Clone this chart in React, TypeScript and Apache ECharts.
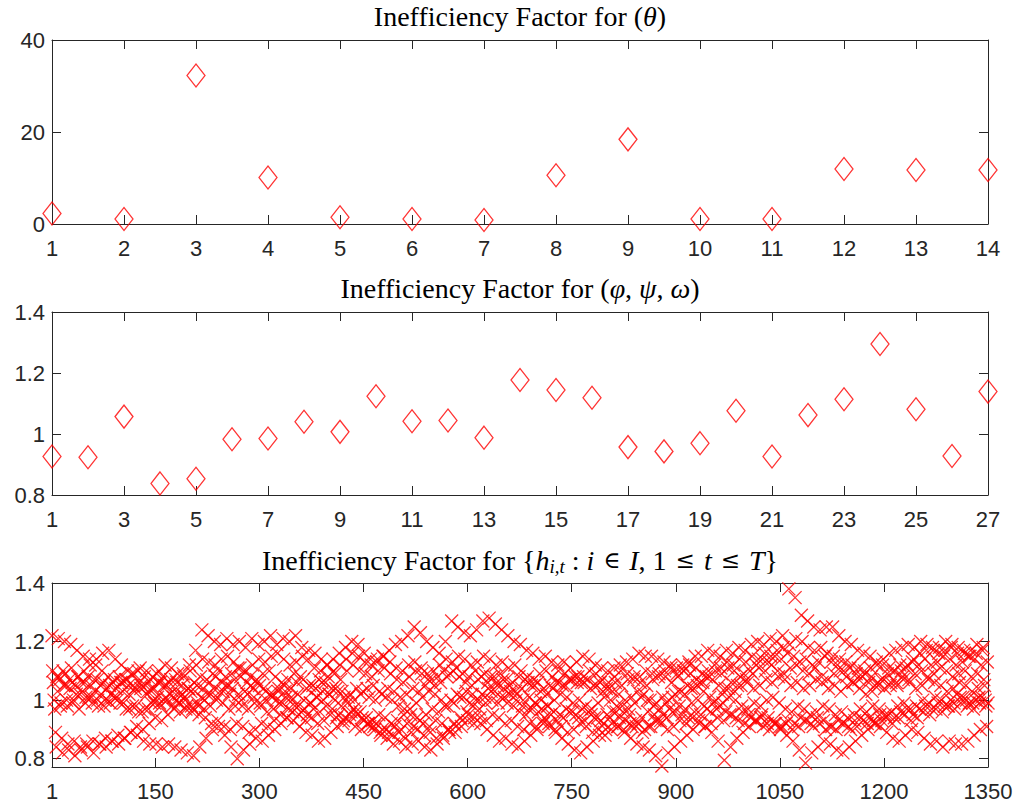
import React, { useEffect, useRef } from "react";
import * as echarts from "echarts";

// ---------- data ----------
const thetaIndex = [1, 2, 3, 4, 5, 6, 7, 8, 9, 10, 11, 12, 13, 14];
const thetaIF = [2.3, 1.09, 32.3, 10.1, 1.45, 1.09, 0.87, 10.6, 18.4, 1.09, 1.09, 11.96, 11.74, 11.74];

const paramIndex = [1, 2, 3, 4, 5, 6, 7, 8, 9, 10, 11, 12, 13, 14, 15, 16, 17, 18, 19, 20, 21, 22, 23, 24, 25, 26, 27];
const paramIF = [0.926, 0.924, 1.057, 0.838, 0.853, 0.983, 0.985, 1.04, 1.007, 1.124, 1.042, 1.044, 0.988, 1.177, 1.144, 1.119, 0.957, 0.943, 0.97, 1.076, 0.926, 1.062, 1.114, 1.295, 1.081, 0.928, 1.139];

// h_{i,t}: nine interleaved series (i fastest), 150 time points each
const hA = [
  1.22, 1.21, 1.20, 1.19, 1.17, 1.15, 1.14, 1.12, 1.10, 1.08,
  1.07, 1.06, 1.07, 1.05, 1.06, 1.05, 1.04, 1.06, 1.05, 1.07,
  1.06, 1.09, 1.12, 1.17, 1.24, 1.22, 1.20, 1.19, 1.21, 1.19,
  1.20, 1.18, 1.21, 1.19, 1.20, 1.22, 1.19, 1.21, 1.20, 1.22,
  1.18, 1.14, 1.11, 1.10, 1.12, 1.14, 1.16, 1.18, 1.20, 1.19,
  1.16, 1.14, 1.13, 1.15, 1.17, 1.19, 1.20, 1.22, 1.25, 1.23,
  1.20, 1.18, 1.16, 1.20, 1.27, 1.25, 1.23, 1.22, 1.24, 1.27,
  1.28, 1.26, 1.24, 1.22, 1.20, 1.19, 1.17, 1.16, 1.14, 1.15,
  1.13, 1.12, 1.13, 1.11, 1.13, 1.15, 1.14, 1.12, 1.11, 1.10,
  1.11, 1.12, 1.13, 1.14, 1.16, 1.15, 1.15, 1.14, 1.13, 1.12,
  1.11, 1.12, 1.13, 1.15, 1.15, 1.17, 1.16, 1.15, 1.17, 1.16,
  1.18, 1.17, 1.19, 1.20, 1.19, 1.21, 1.20, 1.22, 1.38, 1.35,
  1.29, 1.27, 1.25, 1.24, 1.25, 1.25, 1.22, 1.20, 1.19, 1.17,
  1.16, 1.15, 1.13, 1.12, 1.11, 1.10, 1.10, 1.12, 1.14, 1.16,
  1.17, 1.18, 1.16, 1.17, 1.18, 1.16, 1.17, 1.15, 1.16, 1.17,
];
const hB = [
  1.10, 1.08, 1.09, 1.11, 1.08, 1.10, 1.12, 1.14, 1.16, 1.17,
  1.14, 1.12, 1.10, 1.09, 1.11, 1.10, 1.08, 1.10, 1.12, 1.11,
  1.09, 1.08, 1.10, 1.12, 1.14, 1.13, 1.12, 1.14, 1.15, 1.13,
  1.11, 1.10, 1.12, 1.14, 1.13, 1.15, 1.16, 1.14, 1.12, 1.13,
  1.15, 1.17, 1.16, 1.14, 1.12, 1.10, 1.12, 1.14, 1.16, 1.15,
  1.13, 1.12, 1.14, 1.15, 1.13, 1.11, 1.10, 1.12, 1.13, 1.11,
  1.09, 1.10, 1.12, 1.14, 1.13, 1.15, 1.14, 1.12, 1.13, 1.15,
  1.14, 1.12, 1.13, 1.11, 1.12, 1.10, 1.08, 1.07, 1.09, 1.10,
  1.08, 1.10, 1.09, 1.07, 1.06, 1.08, 1.10, 1.09, 1.07, 1.06,
  1.08, 1.10, 1.09, 1.07, 1.08, 1.10, 1.09, 1.08, 1.10, 1.11,
  1.09, 1.10, 1.12, 1.11, 1.09, 1.10, 1.12, 1.11, 1.13, 1.12,
  1.14, 1.13, 1.15, 1.14, 1.16, 1.15, 1.17, 1.18, 1.19, 1.21,
  1.20, 1.18, 1.17, 1.18, 1.16, 1.15, 1.14, 1.13, 1.12, 1.11,
  1.10, 1.11, 1.12, 1.14, 1.16, 1.17, 1.18, 1.19, 1.18, 1.20,
  1.19, 1.17, 1.18, 1.20, 1.19, 1.18, 1.16, 1.17, 1.19, 1.18,
];
const hC = [
  1.06, 1.07, 1.05, 1.06, 1.08, 1.06, 1.05, 1.07, 1.06, 1.05,
  1.04, 1.06, 1.05, 1.03, 1.04, 1.02, 1.00, 0.99, 1.01, 0.98,
  0.99, 1.01, 1.03, 1.05, 1.04, 1.06, 1.08, 1.06, 1.05, 1.07,
  1.08, 1.06, 1.04, 1.05, 1.03, 1.01, 1.03, 1.05, 1.04, 1.06,
  1.07, 1.05, 1.04, 1.06, 1.08, 1.09, 1.07, 1.10, 1.12, 1.10,
  1.09, 1.08, 1.10, 1.11, 1.09, 1.07, 1.06, 1.08, 1.10, 1.09,
  1.07, 1.05, 1.06, 1.08, 1.10, 1.08, 1.06, 1.05, 1.07, 1.09,
  1.08, 1.06, 1.07, 1.05, 1.03, 1.04, 1.06, 1.05, 1.03, 1.02,
  1.04, 1.06, 1.05, 1.07, 1.08, 1.06, 1.04, 1.05, 1.03, 1.04,
  1.06, 1.05, 1.07, 1.08, 1.06, 1.05, 1.07, 1.09, 1.08, 1.06,
  1.08, 1.10, 1.09, 1.07, 1.06, 1.08, 1.10, 1.09, 1.11, 1.10,
  1.08, 1.07, 1.09, 1.11, 1.10, 1.12, 1.10, 1.09, 1.11, 1.12,
  1.10, 1.09, 1.11, 1.08, 1.07, 1.09, 1.10, 1.08, 1.06, 1.07,
  1.09, 1.08, 1.06, 1.07, 1.05, 1.06, 1.08, 1.07, 1.09, 1.10,
  1.08, 1.09, 1.11, 1.10, 1.08, 1.09, 1.10, 1.08, 1.09, 1.07,
];
const hD = [
  1.00, 0.98, 1.00, 0.99, 0.97, 0.99, 1.01, 1.00, 0.98, 0.99,
  1.01, 1.03, 1.02, 1.04, 1.05, 1.03, 1.04, 1.06, 1.05, 1.03,
  1.02, 1.00, 0.98, 0.99, 0.97, 0.98, 1.00, 0.99, 0.97, 0.98,
  1.00, 1.02, 1.01, 0.99, 1.00, 1.02, 1.04, 1.03, 1.01, 1.02,
  1.00, 0.99, 1.01, 1.03, 1.02, 1.00, 0.98, 0.99, 0.97, 0.96,
  0.94, 0.93, 0.95, 0.94, 0.92, 0.93, 0.95, 0.97, 0.99, 1.01,
  1.03, 1.02, 1.00, 0.98, 0.99, 1.01, 1.03, 1.02, 1.00, 1.01,
  1.03, 1.05, 1.04, 1.02, 1.00, 0.98, 0.97, 0.99, 1.00, 0.98,
  0.96, 0.95, 0.97, 0.96, 0.94, 0.93, 0.95, 0.94, 0.92, 0.94,
  0.96, 0.98, 0.97, 0.99, 1.01, 1.00, 0.98, 0.97, 0.99, 1.01,
  1.03, 1.02, 1.04, 1.05, 1.03, 1.01, 1.00, 1.02, 1.04, 1.03,
  1.05, 1.06, 1.04, 1.05, 1.07, 1.06, 1.08, 1.07, 1.05, 1.06,
  1.04, 1.05, 1.07, 1.06, 1.04, 1.05, 1.03, 1.05, 1.06, 1.04,
  1.02, 1.03, 1.05, 1.04, 1.06, 1.05, 1.07, 1.06, 1.04, 1.05,
  1.07, 1.06, 1.05, 1.03, 1.04, 1.06, 1.05, 1.03, 1.04, 1.05,
];
const hE = [
  0.97, 0.99, 0.98, 1.00, 1.02, 1.01, 0.99, 0.98, 1.00, 1.02,
  1.00, 0.99, 0.97, 0.98, 0.96, 0.97, 0.99, 0.98, 1.00, 1.01,
  0.99, 0.97, 0.96, 0.98, 1.00, 1.02, 1.01, 1.03, 1.02, 1.00,
  0.98, 0.97, 0.99, 0.98, 0.96, 0.97, 0.99, 1.01, 1.00, 0.98,
  0.97, 0.99, 1.01, 1.00, 1.02, 1.04, 1.03, 1.01, 1.00, 1.02,
  1.04, 1.05, 1.03, 1.01, 1.00, 0.98, 0.97, 0.95, 0.94, 0.92,
  0.91, 0.93, 0.92, 0.90, 0.92, 0.94, 0.96, 0.98, 0.97, 0.99,
  1.00, 0.99, 1.01, 1.03, 1.02, 1.00, 1.01, 0.99, 0.97, 0.98,
  1.00, 1.02, 1.01, 0.99, 1.00, 0.98, 0.97, 0.99, 1.01, 1.00,
  0.98, 0.96, 0.95, 0.93, 0.94, 0.96, 0.95, 0.93, 0.94, 0.96,
  0.98, 0.97, 0.99, 1.00, 0.98, 0.96, 0.97, 0.99, 1.01, 1.00,
  0.98, 0.97, 0.99, 0.98, 1.00, 1.01, 0.99, 0.97, 0.96, 0.98,
  0.97, 0.95, 0.96, 0.98, 0.97, 0.95, 0.96, 0.94, 0.95, 0.97,
  0.96, 0.98, 0.97, 0.95, 0.96, 0.98, 0.99, 0.97, 0.98, 1.00,
  0.99, 1.01, 1.00, 0.98, 0.99, 1.01, 1.00, 0.99, 1.01, 1.00,
];
const hF = [
  0.89, 0.87, 0.85, 0.86, 0.84, 0.85, 0.86, 0.85, 0.87, 0.86,
  0.88, 0.87, 0.89, 0.91, 0.90, 0.92, 0.94, 0.93, 0.95, 0.97,
  0.96, 0.98, 0.97, 0.95, 0.94, 0.92, 0.93, 0.91, 0.90, 0.92,
  0.91, 0.89, 0.90, 0.92, 0.91, 0.93, 0.95, 0.94, 0.96, 0.95,
  0.93, 0.94, 0.92, 0.93, 0.95, 0.94, 0.92, 0.93, 0.91, 0.90,
  0.92, 0.91, 0.89, 0.90, 0.88, 0.89, 0.87, 0.89, 0.90, 0.88,
  0.89, 0.87, 0.88, 0.90, 0.89, 0.91, 0.93, 0.92, 0.94, 0.93,
  0.95, 0.94, 0.92, 0.93, 0.91, 0.90, 0.92, 0.91, 0.93, 0.92,
  0.90, 0.91, 0.89, 0.90, 0.92, 0.91, 0.89, 0.90, 0.88, 0.90,
  0.91, 0.90, 0.92, 0.91, 0.89, 0.91, 0.93, 0.92, 0.90, 0.91,
  0.93, 0.92, 0.94, 0.93, 0.91, 0.92, 0.94, 0.93, 0.95, 0.94,
  0.96, 0.95, 0.93, 0.94, 0.92, 0.93, 0.91, 0.92, 0.90, 0.91,
  0.93, 0.92, 0.94, 0.93, 0.91, 0.90, 0.92, 0.91, 0.93, 0.94,
  0.92, 0.93, 0.95, 0.94, 0.92, 0.94, 0.95, 0.93, 0.94, 0.96,
  0.95, 0.97, 0.96, 0.98, 0.97, 0.99, 0.98, 0.97, 0.99, 0.98,
];
const hG = [
  0.84, 0.82, 0.83, 0.81, 0.83, 0.84, 0.82, 0.85, 0.84, 0.86,
  0.85, 0.87, 0.89, 0.88, 0.86, 0.85, 0.85, 0.84, 0.85, 0.84,
  0.83, 0.82, 0.81, 0.84, 0.87, 0.90, 0.91, 0.88, 0.84, 0.80,
  0.83, 0.85, 0.87, 0.86, 0.88, 0.90, 0.92, 0.94, 0.93, 0.91,
  0.89, 0.88, 0.86, 0.87, 0.89, 0.91, 0.93, 0.95, 0.96, 0.94,
  0.92, 0.90, 0.88, 0.87, 0.85, 0.86, 0.84, 0.85, 0.86, 0.84,
  0.83, 0.85, 0.87, 0.89, 0.91, 0.93, 0.95, 0.94, 0.92, 0.90,
  0.88, 0.86, 0.87, 0.85, 0.84, 0.86, 0.88, 0.90, 0.92, 0.91,
  0.89, 0.87, 0.85, 0.83, 0.82, 0.84, 0.86, 0.88, 0.90, 0.92,
  0.91, 0.89, 0.87, 0.85, 0.84, 0.83, 0.81, 0.775, 0.82, 0.84,
  0.86, 0.88, 0.90, 0.92, 0.91, 0.89, 0.86, 0.795, 0.84, 0.87,
  0.89, 0.91, 0.93, 0.95, 0.94, 0.92, 0.90, 0.88, 0.86, 0.83,
  0.785, 0.82, 0.84, 0.86, 0.85, 0.83, 0.82, 0.84, 0.86, 0.88,
  0.90, 0.92, 0.91, 0.89, 0.87, 0.86, 0.88, 0.90, 0.89, 0.87,
  0.85, 0.86, 0.84, 0.86, 0.85, 0.85, 0.86, 0.88, 0.90, 0.91,
];
const hH = [
  1.08, 1.10, 1.07, 1.05, 1.06, 1.08, 1.07, 1.05, 1.04, 1.06,
  1.08, 1.07, 1.09, 1.10, 1.08, 1.07, 1.09, 1.08, 1.06, 1.07,
  1.05, 1.04, 1.06, 1.08, 1.07, 1.09, 1.10, 1.08, 1.09, 1.11,
  1.10, 1.08, 1.07, 1.09, 1.10, 1.08, 1.06, 1.07, 1.09, 1.08,
  1.04, 1.05, 1.07, 1.06, 1.04, 1.03, 1.01, 1.02, 1.04, 1.03,
  1.01, 1.00, 1.02, 1.04, 1.03, 1.01, 1.02, 1.04, 1.03, 1.05,
  1.07, 1.08, 1.10, 1.09, 1.11, 1.09, 1.08, 1.10, 1.08, 1.06,
  1.08, 1.09, 1.07, 1.06, 1.08, 1.07, 1.05, 1.06, 1.04, 1.05,
  1.06, 1.05, 1.07, 1.08, 1.06, 1.07, 1.05, 1.06, 1.04, 1.03,
  1.02, 1.00, 1.01, 1.03, 1.02, 1.00, 0.99, 1.01, 1.00, 1.02,
  1.03, 1.05, 1.04, 1.06, 1.08, 1.07, 1.05, 1.04, 1.06, 1.05,
  1.09, 1.10, 1.12, 1.14, 1.13, 1.15, 1.14, 1.16, 1.15, 1.13,
  1.14, 1.12, 1.13, 1.15, 1.13, 1.12, 1.10, 1.11, 1.09, 1.08,
  1.06, 1.05, 1.07, 1.09, 1.10, 1.12, 1.11, 1.13, 1.12, 1.14,
  1.12, 1.13, 1.15, 1.14, 1.12, 1.13, 1.15, 1.14, 1.12, 1.13,
];
const hI = [
  1.03, 1.05, 1.04, 1.02, 1.03, 1.01, 1.03, 1.02, 1.00, 1.01,
  0.99, 0.97, 0.98, 0.96, 0.97, 0.99, 1.01, 1.00, 1.02, 1.00,
  1.02, 1.04, 1.03, 1.01, 1.02, 1.04, 1.03, 1.05, 1.04, 1.02,
  1.03, 1.05, 1.06, 1.04, 1.02, 1.00, 0.99, 0.97, 0.98, 0.96,
  0.95, 0.97, 0.96, 0.98, 0.97, 0.95, 0.94, 0.96, 0.95, 0.93,
  0.91, 0.92, 0.90, 0.89, 0.91, 0.90, 0.92, 0.91, 0.93, 0.95,
  0.97, 0.96, 0.98, 1.00, 1.02, 1.01, 0.99, 1.00, 1.02, 1.04,
  1.03, 1.01, 0.99, 0.98, 0.96, 0.95, 0.97, 0.96, 0.94, 0.95,
  0.93, 0.94, 0.96, 0.95, 0.97, 0.96, 0.94, 0.93, 0.95, 0.96,
  0.94, 0.93, 0.91, 0.92, 0.90, 0.91, 0.93, 0.95, 0.97, 0.96,
  0.95, 0.94, 0.96, 0.95, 0.97, 0.99, 0.98, 0.96, 0.95, 0.93,
  0.92, 0.94, 0.93, 0.91, 0.90, 0.92, 0.91, 0.93, 0.92, 0.94,
  0.93, 0.91, 0.92, 0.90, 0.91, 0.93, 0.92, 0.90, 0.91, 0.93,
  0.94, 0.92, 0.93, 0.95, 0.94, 0.96, 0.97, 0.95, 0.97, 0.98,
  0.97, 0.99, 0.98, 1.00, 1.02, 1.01, 0.99, 1.00, 1.01, 0.99,
];
const hSeries = [hA, hB, hC, hD, hE, hF, hG, hH, hI];

// tick values
const thetaXTicks = [1, 2, 3, 4, 5, 6, 7, 8, 9, 10, 11, 12, 13, 14];
const thetaYTicks = [0, 20, 40];
const paramXTicks = [1, 3, 5, 7, 9, 11, 13, 15, 17, 19, 21, 23, 25, 27];
const paramYTicks = [0.8, 1, 1.2, 1.4];
const hXTicks = [1, 150, 300, 450, 600, 750, 900, 1050, 1200, 1350];
const hYTicks = [0.8, 1, 1.2, 1.4];

const AX = "#262626";
const RED = "#ff0000";
const TICK_FONT = "'Liberation Sans', Arial, Helvetica, sans-serif";
const TITLE_FONT = "'Liberation Serif', 'Times New Roman', serif";
const fmt = (v: number) => String(v);

function xPair(gridIndex: number, min: number, max: number, ticks: number[]) {
  return [
    {
      type: "value", gridIndex, min, max, position: "bottom",
      axisLine: { show: true, onZero: false, lineStyle: { color: AX, width: 1 } },
      axisTick: { show: true, inside: true, length: 9, customValues: ticks, lineStyle: { color: AX, width: 1 } },
      axisLabel: { show: true, customValues: ticks, formatter: fmt, color: AX, fontSize: 22, fontFamily: TICK_FONT, margin: 13 },
      splitLine: { show: false },
    },
    {
      type: "value", gridIndex, min, max, position: "top",
      axisLine: { show: true, onZero: false, lineStyle: { color: AX, width: 1 } },
      axisTick: { show: true, inside: true, length: 9, customValues: ticks, lineStyle: { color: AX, width: 1 } },
      axisLabel: { show: false },
      splitLine: { show: false },
    },
  ];
}
function yPair(gridIndex: number, min: number, max: number, ticks: number[]) {
  return [
    {
      type: "value", gridIndex, min, max, position: "left",
      axisLine: { show: true, onZero: false, lineStyle: { color: AX, width: 1 } },
      axisTick: { show: true, inside: true, length: 9, customValues: ticks, lineStyle: { color: AX, width: 1 } },
      axisLabel: { show: true, customValues: ticks, formatter: fmt, color: AX, fontSize: 22, fontFamily: TICK_FONT, margin: 7 },
      splitLine: { show: false },
    },
    {
      type: "value", gridIndex, min, max, position: "right",
      axisLine: { show: true, onZero: false, lineStyle: { color: AX, width: 1 } },
      axisTick: { show: true, inside: true, length: 9, customValues: ticks, lineStyle: { color: AX, width: 1 } },
      axisLabel: { show: false },
      splitLine: { show: false },
    },
  ];
}

const titleRich = {
  it: { fontStyle: "italic", fontFamily: TITLE_FONT, fontSize: 28, color: "#000", lineHeight: 30 },
  sub: { fontStyle: "italic", fontFamily: TITLE_FONT, fontSize: 19, color: "#000", lineHeight: 30, padding: [12, 0, 0, 0] },
  rel: { fontFamily: "'DejaVu Serif', serif", fontSize: 23, color: "#000", lineHeight: 30, padding: [0, 2, 0, 2] },
};
function makeTitle(text: string, top: number) {
  return {
    text, left: 520, top, textAlign: "center", padding: 0,
    textStyle: { fontFamily: TITLE_FONT, fontSize: 28, fontWeight: "normal", color: "#000", lineHeight: 30, rich: titleRich },
  };
}

export default function App() {
  const ref = useRef<HTMLDivElement>(null);
  useEffect(() => {
    document.body.style.margin = "0";
    if (!ref.current) return;
    const chart = echarts.init(ref.current, null, { renderer: "svg" });

    const thetaData = thetaIndex.map((x, i) => [x, thetaIF[i]]);
    const paramData = paramIndex.map((x, i) => [x, paramIF[i]]);
    const hData: number[][] = [];
    const T = hSeries[0].length;
    for (let t = 0; t < T; t++) {
      for (let k = 0; k < hSeries.length; k++) {
        hData.push([t * hSeries.length + k + 1, hSeries[k][t]]);
      }
    }

    const diamondStyle = { color: "rgba(0,0,0,0)", borderColor: RED, borderWidth: 1.3 };

    chart.setOption({
      animation: false,
      backgroundColor: "#ffffff",
      title: [
        makeTitle("Inefficiency Factor for ({it|θ})", 1),
        makeTitle("Inefficiency Factor for ({it|φ}, {it|ψ}, {it|ω})", 273),
        makeTitle("Inefficiency Factor for {{it|h}{sub|i,t} : {it|i} {rel|∈} {it|I}, 1 {rel|≤} {it|t} {rel|≤} {it|T}}", 545),
      ],
      grid: [
        { left: 52, right: 30, top: 40, height: 184, containLabel: false, outerBoundsMode: "none" },
        { left: 52, right: 30, top: 312, height: 183, containLabel: false, outerBoundsMode: "none" },
        { left: 52, right: 30, top: 583, height: 184, containLabel: false, outerBoundsMode: "none" },
      ],
      xAxis: [
        ...xPair(0, 1, 14, thetaXTicks),
        ...xPair(1, 1, 27, paramXTicks),
        ...xPair(2, 1, 1350, hXTicks),
      ],
      yAxis: [
        ...yPair(0, 0, 40, thetaYTicks),
        ...yPair(1, 0.8, 1.4, paramYTicks),
        ...yPair(2, 0.7717, 1.4, hYTicks),
      ],
      series: [
        {
          type: "scatter", xAxisIndex: 0, yAxisIndex: 0, data: thetaData, clip: false, silent: true,
          symbol: "diamond", symbolSize: [18, 23], itemStyle: diamondStyle,
        },
        {
          type: "scatter", xAxisIndex: 2, yAxisIndex: 2, data: paramData, clip: false, silent: true,
          symbol: "diamond", symbolSize: [18, 23], itemStyle: diamondStyle,
        },
        {
          type: "scatter", xAxisIndex: 4, yAxisIndex: 4, data: hData, clip: false, silent: true,
          symbol: "path://M0,0L10,10M10,0L0,10", symbolSize: 13,
          itemStyle: { color: "rgba(0,0,0,0)", borderColor: RED, borderWidth: 1.3 },
          large: false,
        },
      ],
    });
    return () => chart.dispose();
  }, []);
  return <div ref={ref} style={{ width: 1018, height: 805 }} />;
}
